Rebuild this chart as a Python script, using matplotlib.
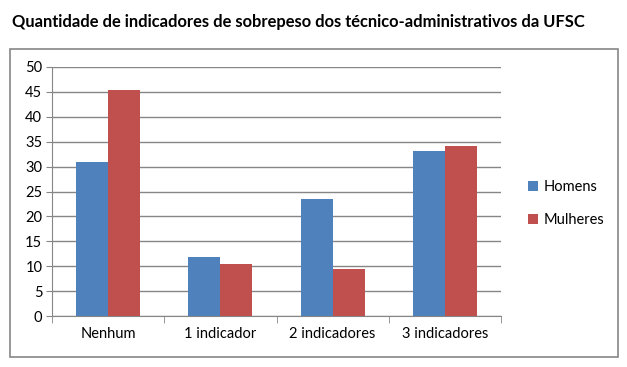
import matplotlib
matplotlib.use("Agg")
import numpy as np
from matplotlib import pyplot as plt
from matplotlib.patches import Rectangle

categories = ["Nenhum", "1 indicador", "2 indicadores", "3 indicadores"]
homens = [31.0, 11.9, 23.5, 33.2]
mulheres = [45.4, 10.5, 9.5, 34.2]
yticks = list(range(0, 55, 5))

plt.rcParams["font.family"] = ["Lato", "DejaVu Sans"]

fig = plt.figure(figsize=(6.27, 3.67), dpi=100)
W, H = 627, 367
ax = fig.add_axes([52 / W, 1 - 316 / H, (501 - 52) / W, (316 - 67) / H])

fig.patches.append(Rectangle((10 / W, 1 - 357 / H), (618 - 10) / W, (357 - 49) / H,
                             transform=fig.transFigure, fill=False,
                             edgecolor="#868686", linewidth=1.2))
fig.text(12 / W, 1 - 22 / H, "Quantidade de indicadores de sobrepeso dos técnico-administrativos da UFSC",
         fontsize=11.9, fontweight="bold", va="center", ha="left")

x = np.arange(len(categories))
bw = 0.286
ax.bar(x - bw / 2, homens, bw, color="#4F81BD", label="Homens", zorder=3)
ax.bar(x + bw / 2, mulheres, bw, color="#C0504D", label="Mulheres", zorder=3)

ax.set_xlim(-0.5, len(categories) - 0.5)
ax.set_ylim(0, 50)
ax.set_yticks(yticks)
ax.set_xticks(x)
ax.set_xticklabels(categories, fontsize=10.5)
ax.tick_params(axis="x", length=0, pad=8)
ax.set_xticks(np.arange(-0.5, len(categories)), minor=True)
ax.tick_params(axis="x", which="minor", length=5, color="#868686")
ax.tick_params(axis="y", labelsize=10.5, length=4, color="#868686", pad=3)
ax.grid(axis="y", color="#868686", linewidth=1)
ax.set_axisbelow(True)
for side in ("top", "right"):
    ax.spines[side].set_visible(False)
for side in ("left", "bottom"):
    ax.spines[side].set_color("#868686")

ax.legend(loc="center left", bbox_to_anchor=(1.03, 0.45), frameon=False,
          fontsize=10.5, handlelength=0.7, handleheight=0.7, handletextpad=0.4,
          labelspacing=1.3)

fig.savefig("out.png", dpi=100)
